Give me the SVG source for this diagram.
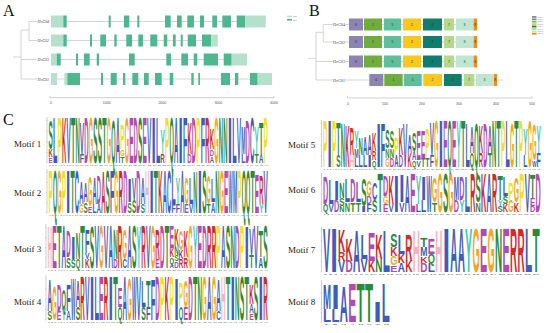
<svg xmlns="http://www.w3.org/2000/svg" width="550" height="333" viewBox="0 0 550 333">
<style>
.lg text{font-family:"Liberation Sans",Arial,sans-serif;font-weight:bold;font-size:14px}
.b{fill:#3d5cbc}.g{fill:#2a8a3a}.m{fill:#b04ab5}.r{fill:#d42a2a}.o{fill:#f6a623}.y{fill:#efe02a}.c{fill:#3cc9bb}.p{fill:#f4b3bf}
.pl{font-family:"Liberation Serif","Times New Roman",serif;font-size:16px;fill:#111}
.ml{font-family:"Liberation Serif","Times New Roman",serif;font-size:9px;fill:#222}
.tk{font-family:"Liberation Sans",Arial,sans-serif;font-size:3.5px;fill:#555;text-anchor:middle}
.gl{font-family:"Liberation Serif","Times New Roman",serif;font-size:4px;fill:#444}
.gi{font-style:italic}
.bn{font-family:"Liberation Sans",Arial,sans-serif;font-size:3.5px;fill:#333;text-anchor:middle}
.tiny{font-family:"Liberation Sans",Arial,sans-serif;font-size:1.8px;fill:#777}
.ln{stroke:#b8b8b8;stroke-width:.6;fill:none}
.ax{stroke:#888;stroke-width:.4;fill:none}
.cds{fill:#4db88f}.utr{fill:#b5e1ca}
.k1{fill:#6fae3e}.k2{fill:#f8c81c}.k3{fill:#bfe6d2}.k4{fill:#117d6c}.k5{fill:#5fbf9c}.k6{fill:#8c84b3}.k7{fill:#b4d98a}.k8{fill:#f28c1e}
</style>
<rect width="550" height="333" fill="#ffffff"/>

<!-- Panel A -->
<text class="pl" x="3" y="16">A</text>
<g id="treeA"><path class="ln" d="M13,57H21M21,30V79M21,30H29M29,21.5V40.5M29,21.5H37M29,40.5H37M21,59.5H37M21,79H37"/></g>
<g id="geneA-HvGS4">
<path class="ln" d="M51,21.5H265.7"/>
<text class="gl gi" x="37.5" y="23">HvGS4</text>
<rect class="utr" x="51" y="15.5" width="12.3" height="12"/>
<rect class="cds" x="63.3" y="15.5" width="3.4" height="12"/><rect class="cds" x="108.7" y="15.5" width="2" height="12"/><rect class="cds" x="124" y="15.5" width="5.3" height="12"/><rect class="cds" x="137.3" y="15.5" width="2" height="12"/><rect class="cds" x="165" y="15.5" width="5.7" height="12"/><rect class="cds" x="177" y="15.5" width="4.7" height="12"/><rect class="cds" x="187.3" y="15.5" width="6.7" height="12"/><rect class="cds" x="200" y="15.5" width="4" height="12"/><rect class="cds" x="212.3" y="15.5" width="4.7" height="12"/><rect class="cds" x="222.3" y="15.5" width="8.7" height="12"/><rect class="cds" x="236.7" y="15.5" width="8.6" height="12"/>
<rect class="utr" x="245.3" y="15.5" width="20.4" height="12"/>
</g>
<g id="geneA-HvGS2">
<path class="ln" d="M51,40.5H217.7"/>
<text class="gl gi" x="37.5" y="42">HvGS2</text>
<rect class="utr" x="51" y="34.5" width="12.3" height="12"/>
<rect class="cds" x="63.3" y="34.5" width="3.4" height="12"/><rect class="cds" x="90" y="34.5" width="2" height="12"/><rect class="cds" x="100.3" y="34.5" width="5.7" height="12"/><rect class="cds" x="114.3" y="34.5" width="2.4" height="12"/><rect class="cds" x="126.3" y="34.5" width="5.7" height="12"/><rect class="cds" x="138.3" y="34.5" width="4.7" height="12"/><rect class="cds" x="150.3" y="34.5" width="7" height="12"/><rect class="cds" x="163.7" y="34.5" width="3.6" height="12"/><rect class="cds" x="173" y="34.5" width="2.7" height="12"/><rect class="cds" x="180.7" y="34.5" width="2" height="12"/><rect class="cds" x="187.7" y="34.5" width="8.3" height="12"/><rect class="cds" x="202" y="34.5" width="9.3" height="12"/>
<rect class="utr" x="211.3" y="34.5" width="6.4" height="12"/>
</g>
<g id="geneA-HvGS3">
<path class="ln" d="M51,59.5H247"/>
<text class="gl gi" x="37.5" y="61">HvGS3</text>
<rect class="utr" x="51" y="53.5" width="5.7" height="12"/>
<rect class="cds" x="56.7" y="53.5" width="4" height="12"/><rect class="cds" x="76" y="53.5" width="2" height="12"/><rect class="cds" x="84" y="53.5" width="5.7" height="12"/><rect class="cds" x="96.7" y="53.5" width="2.3" height="12"/><rect class="cds" x="129" y="53.5" width="5.7" height="12"/><rect class="cds" x="166.3" y="53.5" width="4.7" height="12"/><rect class="cds" x="181.3" y="53.5" width="6.7" height="12"/><rect class="cds" x="193.7" y="53.5" width="3.6" height="12"/><rect class="cds" x="203.7" y="53.5" width="14.3" height="12"/><rect class="cds" x="223.7" y="53.5" width="8" height="12"/>
<rect class="utr" x="231.7" y="53.5" width="15.3" height="12"/>
</g>
<g id="geneA-HvGS1">
<path class="ln" d="M51,79H272"/>
<text class="gl gi" x="37.5" y="80.5">HvGS1</text>
<rect class="utr" x="51" y="73" width="6" height="12"/><rect class="utr" x="64.3" y="73" width="3" height="12"/>
<rect class="cds" x="67.3" y="73" width="12.7" height="12"/><rect class="cds" x="101" y="73" width="2" height="12"/><rect class="cds" x="110.7" y="73" width="6" height="12"/><rect class="cds" x="123" y="73" width="2.3" height="12"/><rect class="cds" x="132.3" y="73" width="6" height="12"/><rect class="cds" x="144" y="73" width="4.7" height="12"/><rect class="cds" x="155" y="73" width="6.7" height="12"/><rect class="cds" x="169.7" y="73" width="3.6" height="12"/><rect class="cds" x="191.3" y="73" width="2.4" height="12"/><rect class="cds" x="198.3" y="73" width="1.7" height="12"/><rect class="cds" x="221" y="73" width="9" height="12"/><rect class="cds" x="235" y="73" width="3.3" height="12"/><rect class="cds" x="250" y="73" width="7.7" height="12"/>
<rect class="utr" x="257.7" y="73" width="14.3" height="12"/>
</g>
<g id="axisA">
<path class="ax" d="M50,97.7H274M50,96V97.7M274,96V97.7"/>
<text class="tk" x="51" y="104">0</text><text class="tk" x="106.7" y="104">1000</text><text class="tk" x="162.3" y="104">2000</text><text class="tk" x="218.3" y="104">3000</text><text class="tk" x="274" y="104">4000</text>
</g>
<g id="legendA">
<rect class="utr" x="287" y="15.7" width="5" height="1.6"/><text class="tiny" x="293" y="17.2">UTR</text>
<rect class="cds" x="287" y="19" width="5" height="1.6"/><text class="tiny" x="293" y="20.5">CDS</text>
</g>

<!-- Panel B -->
<text class="pl" x="309" y="16">B</text>
<g id="treeB"><path class="ln" d="M308.3,58.3H316M316,32.3V80M316,32.3H323.3M323.3,24.5V42M323.3,24.5H333M323.3,42H333M316,61.5H333M316,80H333"/></g>
<g id="protB-HvGS4">
<path class="ln" d="M345,24.5H478"/>
<text class="gl" x="333" y="26">HvGS4</text>
<rect class="k6" x="349" y="18.5" width="14" height="12"/><rect class="k1" x="364" y="18.5" width="18" height="12"/><rect class="k5" x="384" y="18.5" width="17" height="12"/><rect class="k2" x="403" y="18.5" width="18" height="12"/><rect class="k4" x="423" y="18.5" width="19" height="12"/><rect class="k7" x="444" y="18.5" width="10" height="12"/><rect class="k3" x="456" y="18.5" width="17" height="12"/><rect class="k8" x="473.5" y="18.5" width="3.5" height="12"/>
<text class="bn" x="356" y="25.7">6</text><text class="bn" x="373" y="25.7">1</text><text class="bn" x="392.5" y="25.7">5</text><text class="bn" x="412" y="25.7">2</text><text class="bn" x="432.5" y="25.7">4</text><text class="bn" x="449" y="25.7">7</text><text class="bn" x="464.5" y="25.7">3</text><text class="bn" x="475.2" y="25.7">8</text>
</g>
<g id="protB-HvGS2">
<path class="ln" d="M345,42H479.5"/>
<text class="gl" x="333" y="43.5">HvGS2</text>
<rect class="k6" x="349" y="36" width="14" height="12"/><rect class="k1" x="364" y="36" width="18" height="12"/><rect class="k5" x="384" y="36" width="17" height="12"/><rect class="k2" x="403" y="36" width="18" height="12"/><rect class="k4" x="423" y="36" width="19" height="12"/><rect class="k7" x="444" y="36" width="10" height="12"/><rect class="k3" x="456" y="36" width="17" height="12"/><rect class="k8" x="473.5" y="36" width="3.5" height="12"/>
<text class="bn" x="356" y="43.2">6</text><text class="bn" x="373" y="43.2">1</text><text class="bn" x="392.5" y="43.2">5</text><text class="bn" x="412" y="43.2">2</text><text class="bn" x="432.5" y="43.2">4</text><text class="bn" x="449" y="43.2">7</text><text class="bn" x="464.5" y="43.2">3</text><text class="bn" x="475.2" y="43.2">8</text>
</g>
<g id="protB-HvGS3">
<path class="ln" d="M345,61.5H477.5"/>
<text class="gl" x="333" y="63">HvGS3</text>
<rect class="k6" x="349" y="55.5" width="14" height="12"/><rect class="k1" x="364" y="55.5" width="18" height="12"/><rect class="k5" x="384" y="55.5" width="17" height="12"/><rect class="k2" x="403" y="55.5" width="18" height="12"/><rect class="k4" x="423" y="55.5" width="19" height="12"/><rect class="k7" x="444" y="55.5" width="10" height="12"/><rect class="k3" x="456" y="55.5" width="17" height="12"/><rect class="k8" x="473.5" y="55.5" width="3.5" height="12"/>
<text class="bn" x="356" y="62.7">6</text><text class="bn" x="373" y="62.7">1</text><text class="bn" x="392.5" y="62.7">5</text><text class="bn" x="412" y="62.7">2</text><text class="bn" x="432.5" y="62.7">4</text><text class="bn" x="449" y="62.7">7</text><text class="bn" x="464.5" y="62.7">3</text><text class="bn" x="475.2" y="62.7">8</text>
</g>
<g id="protB-HvGS1">
<path class="ln" d="M345,80H503"/>
<text class="gl" x="333" y="81.5">HvGS1</text>
<rect class="k6" x="369.3" y="74" width="14" height="12"/><rect class="k1" x="384.3" y="74" width="18.4" height="12"/><rect class="k5" x="404" y="74" width="17.7" height="12"/><rect class="k2" x="423.3" y="74" width="18.7" height="12"/><rect class="k4" x="444" y="74" width="17.7" height="12"/><rect class="k7" x="464" y="74" width="10.3" height="12"/><rect class="k3" x="476" y="74" width="17.3" height="12"/><rect class="k8" x="493.7" y="74" width="3.3" height="12"/>
<text class="bn" x="376.3" y="81.2">6</text><text class="bn" x="393.5" y="81.2">1</text><text class="bn" x="412.8" y="81.2">5</text><text class="bn" x="432.6" y="81.2">2</text><text class="bn" x="452.8" y="81.2">4</text><text class="bn" x="469.1" y="81.2">7</text><text class="bn" x="484.6" y="81.2">3</text><text class="bn" x="495.3" y="81.2">8</text>
</g>
<g id="axisB">
<path class="ax" d="M347.5,98H532M347.5,96.3V98M532,96.3V98"/>
<text class="tk" x="348" y="104.5">0</text><text class="tk" x="385" y="104.5">100</text><text class="tk" x="422" y="104.5">200</text><text class="tk" x="459" y="104.5">300</text><text class="tk" x="496" y="104.5">400</text><text class="tk" x="532" y="104.5">500</text>
</g>
<g id="legendB">
<rect class="k6" x="532" y="16" width="4.5" height="1.8"/><text class="tiny" x="537.5" y="17.5">Motif 6</text>
<rect class="k1" x="532" y="18.4" width="4.5" height="1.8"/><text class="tiny" x="537.5" y="19.9">Motif 1</text>
<rect class="k5" x="532" y="20.8" width="4.5" height="1.8"/><text class="tiny" x="537.5" y="22.3">Motif 5</text>
<rect class="k2" x="532" y="23.2" width="4.5" height="1.8"/><text class="tiny" x="537.5" y="24.7">Motif 2</text>
<rect class="k4" x="532" y="25.6" width="4.5" height="1.8"/><text class="tiny" x="537.5" y="27.1">Motif 4</text>
<rect class="k7" x="532" y="28" width="4.5" height="1.8"/><text class="tiny" x="537.5" y="29.5">Motif 7</text>
<rect class="k3" x="532" y="30.4" width="4.5" height="1.8"/><text class="tiny" x="537.5" y="31.9">Motif 3</text>
<rect class="k8" x="532" y="32.8" width="4.5" height="1.8"/><text class="tiny" x="537.5" y="34.3">Motif 8</text>
</g>

<!-- Panel C -->
<text class="pl" x="3" y="125">C</text>
<g id="motif-labels">
<text class="ml" x="14" y="146.5">Motif 1</text>
<text class="ml" x="14" y="195.5">Motif 2</text>
<text class="ml" x="14" y="251.5">Motif 3</text>
<text class="ml" x="14" y="305">Motif 4</text>
<text class="ml" x="288" y="148">Motif 5</text>
<text class="ml" x="288" y="193">Motif 6</text>
<text class="ml" x="288" y="253">Motif 7</text>
<text class="ml" x="288" y="304.5">Motif 8</text>
</g>
<g id="logo-axes">
<path class="ax" d="M47,117V163M46.2,163H47M46.2,152.4H47M46.2,141.7H47M46.2,131.1H47M46.2,120.4H47
M47,169V213M46.2,213H47M46.2,202.8H47M46.2,192.6H47M46.2,182.5H47M46.2,172.3H47
M46,224V268M45.2,268H46M45.2,257.8H46M45.2,247.6H46M45.2,237.5H46M45.2,227.3H46
M46,275V320M45.2,320H46M45.2,309.6H46M45.2,299.2H46M45.2,288.8H46M45.2,278.3H46
M321.5,120V167M320.7,167H321.5M320.7,156.1H321.5M320.7,145.2H321.5M320.7,134.4H321.5M320.7,123.5H321.5
M321.5,173V212M320.7,212H321.5M320.7,203H321.5M320.7,194H321.5M320.7,184.9H321.5M320.7,175.9H321.5
M321.5,227V272M320.7,272H321.5M320.7,261.6H321.5M320.7,251.2H321.5M320.7,240.8H321.5M320.7,230.3H321.5
M321.5,280V322M320.7,322H321.5M320.7,312.3H321.5M320.7,302.6H321.5M320.7,292.9H321.5M320.7,283.1H321.5"/>
<text class="tiny" x="49" y="166" textLength="219" lengthAdjust="spacingAndGlyphs">1 2 3 4 5 6 7 8 9 10 11 12 13 14 15 16 17 18 19 20 21 22 23 24 25 26 27 28 29 30 31 32 33 34 35 36 37 38 39 40 41 42 43 44 45 46 47 48 49</text>
<text class="tiny" x="49" y="216" textLength="219" lengthAdjust="spacingAndGlyphs">1 2 3 4 5 6 7 8 9 10 11 12 13 14 15 16 17 18 19 20 21 22 23 24 25 26 27 28 29 30 31 32 33 34 35 36 37 38 39 40 41 42 43 44 45 46 47 48 49 50</text>
<text class="tiny" x="48" y="271" textLength="220" lengthAdjust="spacingAndGlyphs">1 2 3 4 5 6 7 8 9 10 11 12 13 14 15 16 17 18 19 20 21 22 23 24 25 26 27 28 29 30 31 32 33 34 35 36 37 38 39 40 41 42 43 44 45 46 47</text>
<text class="tiny" x="48" y="323" textLength="220" lengthAdjust="spacingAndGlyphs">1 2 3 4 5 6 7 8 9 10 11 12 13 14 15 16 17 18 19 20 21 22 23 24 25 26 27 28 29 30 31 32 33 34 35 36 37 38 39 40 41 42 43 44 45 46 47</text>
<text class="tiny" x="323.5" y="170" textLength="217" lengthAdjust="spacingAndGlyphs">1 2 3 4 5 6 7 8 9 10 11 12 13 14 15 16 17 18 19 20 21 22 23 24 25 26 27 28 29 30 31 32 33 34 35 36 37 38 39 40 41 42 43 44 45 46 47 48 49</text>
<text class="tiny" x="323.5" y="215" textLength="217" lengthAdjust="spacingAndGlyphs">1 2 3 4 5 6 7 8 9 10 11 12 13 14 15 16 17 18 19 20 21 22 23 24 25 26 27 28 29 30 31 32 33 34 35 36 37 38 39 40</text>
<text class="tiny" x="323.5" y="275" textLength="216" lengthAdjust="spacingAndGlyphs">1 2 3 4 5 6 7 8 9 10 11 12 13 14 15 16 17 18 19 20 21 22 23 24 25 26 27 28 29</text>
<text class="tiny" x="323.5" y="325" textLength="66" lengthAdjust="spacingAndGlyphs">1 2 3 4 5 6 7 8</text>
</g>

<g id="logo-motif1" class="lg" transform="translate(48.5,163) scale(.448,4.6)">
<text x="0" class="m" transform="scale(1,.12)" textLength="9.6" lengthAdjust="spacingAndGlyphs">E</text>
<text x="0" class="r" transform="translate(0,-1.2) scale(1,.18)" textLength="9.6" lengthAdjust="spacingAndGlyphs">K</text>
<text x="0" class="g" transform="translate(0,-3) scale(1,.62)" textLength="9.6" lengthAdjust="spacingAndGlyphs">S</text>
<text x="10" class="b" textLength="9.6" lengthAdjust="spacingAndGlyphs">L</text>
<text x="20" class="y" textLength="9.6" lengthAdjust="spacingAndGlyphs">P</text>
<text x="30" class="r" textLength="9.6" lengthAdjust="spacingAndGlyphs">K</text>
<text x="40" class="b" textLength="9.6" lengthAdjust="spacingAndGlyphs">V</text>
<text x="50" class="g" textLength="9.6" lengthAdjust="spacingAndGlyphs">T</text>
<text x="60" class="g" textLength="9.6" lengthAdjust="spacingAndGlyphs">N</text>
<text x="70" class="b" transform="scale(1,.2)" textLength="9.6" lengthAdjust="spacingAndGlyphs">F</text>
<text x="70" class="b" transform="translate(0,-2) scale(1,.7)" textLength="9.6" lengthAdjust="spacingAndGlyphs">V</text>
<text x="80" class="m" textLength="9.6" lengthAdjust="spacingAndGlyphs">D</text>
<text x="90" class="o" textLength="9.6" lengthAdjust="spacingAndGlyphs">G</text>
<text x="100" class="g" textLength="9.6" lengthAdjust="spacingAndGlyphs">S</text>
<text x="110" class="g" textLength="9.6" lengthAdjust="spacingAndGlyphs">S</text>
<text x="120" class="g" textLength="9.6" lengthAdjust="spacingAndGlyphs">T</text>
<text x="130" class="o" textLength="9.6" lengthAdjust="spacingAndGlyphs">G</text>
<text x="140" class="g" transform="scale(1,.95)" textLength="9.6" lengthAdjust="spacingAndGlyphs">Q</text>
<text x="150" class="b" textLength="9.6" lengthAdjust="spacingAndGlyphs">A</text>
<text x="160" class="g" transform="scale(1,.15)" textLength="9.6" lengthAdjust="spacingAndGlyphs">T</text>
<text x="160" class="o" transform="translate(0,-1.5) scale(1,.15)" textLength="9.6" lengthAdjust="spacingAndGlyphs">G</text>
<text x="160" class="y" transform="translate(0,-3) scale(1,.55)" textLength="9.6" lengthAdjust="spacingAndGlyphs">P</text>
<text x="170" class="o" textLength="9.6" lengthAdjust="spacingAndGlyphs">G</text>
<text x="180" class="m" textLength="9.6" lengthAdjust="spacingAndGlyphs">E</text>
<text x="190" class="m" textLength="9.6" lengthAdjust="spacingAndGlyphs">D</text>
<text x="200" class="g" textLength="9.6" lengthAdjust="spacingAndGlyphs">S</text>
<text x="210" class="m" textLength="9.6" lengthAdjust="spacingAndGlyphs">E</text>
<text x="220" class="b" textLength="9.6" lengthAdjust="spacingAndGlyphs">V</text>
<text x="230" class="b" textLength="9.6" lengthAdjust="spacingAndGlyphs">I</text>
<text x="240" class="b" textLength="9.6" lengthAdjust="spacingAndGlyphs">L</text>
<text x="250" class="r" transform="scale(1,.2)" textLength="9.6" lengthAdjust="spacingAndGlyphs">R</text>
<text x="250" class="c" transform="translate(0,-2) scale(1,.55)" textLength="9.6" lengthAdjust="spacingAndGlyphs">Y</text>
<text x="260" class="y" textLength="9.6" lengthAdjust="spacingAndGlyphs">P</text>
<text x="270" class="g" textLength="9.6" lengthAdjust="spacingAndGlyphs">Q</text>
<text x="280" class="b" textLength="9.6" lengthAdjust="spacingAndGlyphs">A</text>
<text x="290" class="b" textLength="9.6" lengthAdjust="spacingAndGlyphs">I</text>
<text x="300" class="b" textLength="9.6" lengthAdjust="spacingAndGlyphs">F</text>
<text x="310" class="m" transform="scale(1,.2)" textLength="9.6" lengthAdjust="spacingAndGlyphs">D</text>
<text x="310" class="r" transform="translate(0,-2) scale(1,.7)" textLength="9.6" lengthAdjust="spacingAndGlyphs">K</text>
<text x="320" class="m" textLength="9.6" lengthAdjust="spacingAndGlyphs">D</text>
<text x="330" class="y" textLength="9.6" lengthAdjust="spacingAndGlyphs">P</text>
<text x="340" class="b" textLength="9.6" lengthAdjust="spacingAndGlyphs">F</text>
<text x="350" class="r" textLength="9.6" lengthAdjust="spacingAndGlyphs">R</text>
<text x="360" class="b" transform="scale(1,.15)" textLength="9.6" lengthAdjust="spacingAndGlyphs">A</text>
<text x="360" class="m" transform="translate(0,-1.5) scale(1,.15)" textLength="9.6" lengthAdjust="spacingAndGlyphs">D</text>
<text x="360" class="r" transform="translate(0,-3) scale(1,.45)" textLength="9.6" lengthAdjust="spacingAndGlyphs">K</text>
<text x="370" class="o" textLength="9.6" lengthAdjust="spacingAndGlyphs">G</text>
<text x="380" class="g" textLength="9.6" lengthAdjust="spacingAndGlyphs">N</text>
<text x="390" class="g" textLength="9.6" lengthAdjust="spacingAndGlyphs">N</text>
<text x="400" class="b" textLength="9.6" lengthAdjust="spacingAndGlyphs">I</text>
<text x="410" class="b" textLength="9.6" lengthAdjust="spacingAndGlyphs">L</text>
<text x="420" class="b" textLength="9.6" lengthAdjust="spacingAndGlyphs">V</text>
<text x="430" class="b" transform="scale(1,.2)" textLength="9.6" lengthAdjust="spacingAndGlyphs">L</text>
<text x="430" class="b" transform="translate(0,-2) scale(1,.6)" textLength="9.6" lengthAdjust="spacingAndGlyphs">M</text>
<text x="440" class="m" transform="scale(1,.95)" textLength="9.6" lengthAdjust="spacingAndGlyphs">D</text>
<text x="450" class="b" textLength="9.6" lengthAdjust="spacingAndGlyphs">C</text>
<text x="460" class="g" transform="scale(1,.2)" textLength="9.6" lengthAdjust="spacingAndGlyphs">T</text>
<text x="460" class="c" transform="translate(0,-2) scale(1,.6)" textLength="9.6" lengthAdjust="spacingAndGlyphs">Y</text>
<text x="470" class="b" transform="scale(1,.2)" textLength="9.6" lengthAdjust="spacingAndGlyphs">A</text>
<text x="470" class="g" transform="translate(0,-2) scale(1,.7)" textLength="9.6" lengthAdjust="spacingAndGlyphs">T</text>
<text x="480" class="y" textLength="9.6" lengthAdjust="spacingAndGlyphs">P</text>
</g>

<g id="logo-motif2" class="lg" transform="translate(48.5,213) scale(.439,4.4)">
<text x="0" class="y" textLength="9.6" lengthAdjust="spacingAndGlyphs">P</text>
<text x="10" class="g" textLength="9.6" lengthAdjust="spacingAndGlyphs">Q</text>
<text x="20" class="o" textLength="9.6" lengthAdjust="spacingAndGlyphs">G</text>
<text x="30" class="y" textLength="9.6" lengthAdjust="spacingAndGlyphs">P</text>
<text x="40" class="b" textLength="9.6" lengthAdjust="spacingAndGlyphs">I</text>
<text x="50" class="g" textLength="9.6" lengthAdjust="spacingAndGlyphs">T</text>
<text x="60" class="b" textLength="9.6" lengthAdjust="spacingAndGlyphs">C</text>
<text x="70" class="o" transform="scale(1,.2)" textLength="9.6" lengthAdjust="spacingAndGlyphs">G</text>
<text x="70" class="b" transform="translate(0,-2) scale(1,.5)" textLength="9.6" lengthAdjust="spacingAndGlyphs">A</text>
<text x="80" class="g" transform="scale(1,.25)" textLength="9.6" lengthAdjust="spacingAndGlyphs">S</text>
<text x="80" class="b" transform="translate(0,-2.5) scale(1,.45)" textLength="9.6" lengthAdjust="spacingAndGlyphs">A</text>
<text x="90" class="m" transform="scale(1,.15)" textLength="9.6" lengthAdjust="spacingAndGlyphs">E</text>
<text x="90" class="o" transform="translate(0,-1.5) scale(1,.7)" textLength="9.6" lengthAdjust="spacingAndGlyphs">G</text>
<text x="100" class="b" transform="scale(1,.2)" textLength="9.6" lengthAdjust="spacingAndGlyphs">L</text>
<text x="100" class="b" transform="translate(0,-2) scale(1,.6)" textLength="9.6" lengthAdjust="spacingAndGlyphs">A</text>
<text x="110" class="b" transform="scale(1,.2)" textLength="9.6" lengthAdjust="spacingAndGlyphs">A</text>
<text x="110" class="m" transform="translate(0,-2) scale(1,.65)" textLength="9.6" lengthAdjust="spacingAndGlyphs">D</text>
<text x="120" class="r" transform="scale(1,.95)" textLength="9.6" lengthAdjust="spacingAndGlyphs">A</text>
<text x="130" class="g" textLength="9.6" lengthAdjust="spacingAndGlyphs">S</text>
<text x="140" class="b" textLength="9.6" lengthAdjust="spacingAndGlyphs">F</text>
<text x="150" class="o" textLength="9.6" lengthAdjust="spacingAndGlyphs">G</text>
<text x="160" class="r" textLength="9.6" lengthAdjust="spacingAndGlyphs">R</text>
<text x="170" class="m" textLength="9.6" lengthAdjust="spacingAndGlyphs">D</text>
<text x="180" class="g" transform="scale(1,.25)" textLength="9.6" lengthAdjust="spacingAndGlyphs">S</text>
<text x="180" class="b" transform="translate(0,-2.5) scale(1,.55)" textLength="9.6" lengthAdjust="spacingAndGlyphs">I</text>
<text x="190" class="g" transform="scale(1,.3)" textLength="9.6" lengthAdjust="spacingAndGlyphs">S</text>
<text x="190" class="b" transform="translate(0,-3) scale(1,.5)" textLength="9.6" lengthAdjust="spacingAndGlyphs">V</text>
<text x="200" class="m" textLength="9.6" lengthAdjust="spacingAndGlyphs">D</text>
<text x="210" class="g" transform="scale(1,.2)" textLength="9.6" lengthAdjust="spacingAndGlyphs">S</text>
<text x="210" class="b" transform="translate(0,-2) scale(1,.6)" textLength="9.6" lengthAdjust="spacingAndGlyphs">A</text>
<text x="220" class="p" textLength="9.6" lengthAdjust="spacingAndGlyphs">H</text>
<text x="230" class="b" textLength="9.6" lengthAdjust="spacingAndGlyphs">I</text>
<text x="240" class="g" textLength="9.6" lengthAdjust="spacingAndGlyphs">T</text>
<text x="250" class="r" textLength="9.6" lengthAdjust="spacingAndGlyphs">K</text>
<text x="260" class="b" textLength="9.6" lengthAdjust="spacingAndGlyphs">A</text>
<text x="270" class="b" textLength="9.6" lengthAdjust="spacingAndGlyphs">C</text>
<text x="280" class="b" transform="scale(1,.2)" textLength="9.6" lengthAdjust="spacingAndGlyphs">F</text>
<text x="280" class="b" transform="translate(0,-2) scale(1,.7)" textLength="9.6" lengthAdjust="spacingAndGlyphs">L</text>
<text x="290" class="b" transform="scale(1,.2)" textLength="9.6" lengthAdjust="spacingAndGlyphs">F</text>
<text x="290" class="c" transform="translate(0,-2) scale(1,.6)" textLength="9.6" lengthAdjust="spacingAndGlyphs">Y</text>
<text x="300" class="b" textLength="9.6" lengthAdjust="spacingAndGlyphs">A</text>
<text x="310" class="m" transform="scale(1,.2)" textLength="9.6" lengthAdjust="spacingAndGlyphs">E</text>
<text x="310" class="o" transform="translate(0,-2) scale(1,.6)" textLength="9.6" lengthAdjust="spacingAndGlyphs">G</text>
<text x="320" class="b" transform="scale(1,.2)" textLength="9.6" lengthAdjust="spacingAndGlyphs">V</text>
<text x="320" class="b" transform="translate(0,-2) scale(1,.6)" textLength="9.6" lengthAdjust="spacingAndGlyphs">L</text>
<text x="330" class="g" transform="scale(1,.95)" textLength="9.6" lengthAdjust="spacingAndGlyphs">N</text>
<text x="340" class="b" textLength="9.6" lengthAdjust="spacingAndGlyphs">I</text>
<text x="350" class="g" textLength="9.6" lengthAdjust="spacingAndGlyphs">S</text>
<text x="360" class="g" transform="scale(1,.2)" textLength="9.6" lengthAdjust="spacingAndGlyphs">T</text>
<text x="360" class="o" transform="translate(0,-2) scale(1,.65)" textLength="9.6" lengthAdjust="spacingAndGlyphs">G</text>
<text x="370" class="b" transform="scale(1,.25)" textLength="9.6" lengthAdjust="spacingAndGlyphs">A</text>
<text x="370" class="b" transform="translate(0,-2.5) scale(1,.55)" textLength="9.6" lengthAdjust="spacingAndGlyphs">L</text>
<text x="380" class="g" textLength="9.6" lengthAdjust="spacingAndGlyphs">N</text>
<text x="390" class="o" textLength="9.6" lengthAdjust="spacingAndGlyphs">G</text>
<text x="400" class="m" textLength="9.6" lengthAdjust="spacingAndGlyphs">E</text>
<text x="410" class="b" textLength="9.6" lengthAdjust="spacingAndGlyphs">W</text>
<text x="420" class="b" textLength="9.6" lengthAdjust="spacingAndGlyphs">M</text>
<text x="430" class="y" textLength="9.6" lengthAdjust="spacingAndGlyphs">P</text>
<text x="440" class="g" textLength="9.6" lengthAdjust="spacingAndGlyphs">Q</text>
<text x="450" class="g" textLength="9.6" lengthAdjust="spacingAndGlyphs">Q</text>
<text x="460" class="g" textLength="9.6" lengthAdjust="spacingAndGlyphs">T</text>
<text x="470" class="m" transform="scale(1,.9)" textLength="9.6" lengthAdjust="spacingAndGlyphs">E</text>
<text x="480" class="c" transform="scale(1,.2)" textLength="9.6" lengthAdjust="spacingAndGlyphs">Y</text>
<text x="480" class="r" transform="translate(0,-2) scale(1,.65)" textLength="9.6" lengthAdjust="spacingAndGlyphs">R</text>
<text x="490" class="b" textLength="9.6" lengthAdjust="spacingAndGlyphs">V</text>
</g>

<g id="logo-motif3" class="lg" transform="translate(47.5,268) scale(.469,4.4)">
<text x="0" class="p" transform="scale(1,.95)" textLength="9.6" lengthAdjust="spacingAndGlyphs">H</text>
<text x="10" class="m" textLength="9.6" lengthAdjust="spacingAndGlyphs">E</text>
<text x="20" class="g" textLength="9.6" lengthAdjust="spacingAndGlyphs">T</text>
<text x="30" class="b" textLength="9.6" lengthAdjust="spacingAndGlyphs">A</text>
<text x="40" class="g" transform="scale(1,.25)" textLength="9.6" lengthAdjust="spacingAndGlyphs">S</text>
<text x="40" class="m" transform="translate(0,-2.5) scale(1,.6)" textLength="9.6" lengthAdjust="spacingAndGlyphs">D</text>
<text x="50" class="g" transform="scale(1,.2)" textLength="9.6" lengthAdjust="spacingAndGlyphs">S</text>
<text x="50" class="b" transform="translate(0,-2) scale(1,.5)" textLength="9.6" lengthAdjust="spacingAndGlyphs">I</text>
<text x="60" class="g" transform="scale(1,.2)" textLength="9.6" lengthAdjust="spacingAndGlyphs">Q</text>
<text x="60" class="g" transform="translate(0,-2) scale(1,.6)" textLength="9.6" lengthAdjust="spacingAndGlyphs">N</text>
<text x="70" class="g" textLength="9.6" lengthAdjust="spacingAndGlyphs">T</text>
<text x="80" class="r" transform="scale(1,.2)" textLength="9.6" lengthAdjust="spacingAndGlyphs">K</text>
<text x="80" class="b" transform="translate(0,-2) scale(1,.15)" textLength="9.6" lengthAdjust="spacingAndGlyphs">V</text>
<text x="80" class="b" transform="translate(0,-3.5) scale(1,.55)" textLength="9.6" lengthAdjust="spacingAndGlyphs">F</text>
<text x="90" class="g" transform="scale(1,.95)" textLength="9.6" lengthAdjust="spacingAndGlyphs">S</text>
<text x="100" class="b" textLength="9.6" lengthAdjust="spacingAndGlyphs">V</text>
<text x="110" class="o" textLength="9.6" lengthAdjust="spacingAndGlyphs">G</text>
<text x="120" class="b" textLength="9.6" lengthAdjust="spacingAndGlyphs">V</text>
<text x="130" class="b" textLength="9.6" lengthAdjust="spacingAndGlyphs">A</text>
<text x="140" class="m" transform="scale(1,.2)" textLength="9.6" lengthAdjust="spacingAndGlyphs">D</text>
<text x="140" class="g" transform="translate(0,-2) scale(1,.7)" textLength="9.6" lengthAdjust="spacingAndGlyphs">N</text>
<text x="150" class="r" textLength="9.6" lengthAdjust="spacingAndGlyphs">R</text>
<text x="160" class="b" transform="scale(1,.2)" textLength="9.6" lengthAdjust="spacingAndGlyphs">C</text>
<text x="160" class="o" transform="translate(0,-2) scale(1,.7)" textLength="9.6" lengthAdjust="spacingAndGlyphs">G</text>
<text x="170" class="b" textLength="9.6" lengthAdjust="spacingAndGlyphs">A</text>
<text x="180" class="g" textLength="9.6" lengthAdjust="spacingAndGlyphs">S</text>
<text x="190" class="c" transform="scale(1,.95)" textLength="9.6" lengthAdjust="spacingAndGlyphs">Y</text>
<text x="200" class="r" textLength="9.6" lengthAdjust="spacingAndGlyphs">R</text>
<text x="210" class="b" textLength="9.6" lengthAdjust="spacingAndGlyphs">V</text>
<text x="220" class="o" textLength="9.6" lengthAdjust="spacingAndGlyphs">G</text>
<text x="230" class="m" transform="scale(1,.2)" textLength="9.6" lengthAdjust="spacingAndGlyphs">E</text>
<text x="230" class="r" transform="translate(0,-2) scale(1,.7)" textLength="9.6" lengthAdjust="spacingAndGlyphs">R</text>
<text x="240" class="m" textLength="9.6" lengthAdjust="spacingAndGlyphs">D</text>
<text x="250" class="g" textLength="9.6" lengthAdjust="spacingAndGlyphs">T</text>
<text x="260" class="b" transform="scale(1,.1)" textLength="9.6" lengthAdjust="spacingAndGlyphs">A</text>
<text x="260" class="g" transform="translate(0,-1) scale(1,.15)" textLength="9.6" lengthAdjust="spacingAndGlyphs">Q</text>
<text x="260" class="r" transform="translate(0,-2.5) scale(1,.2)" textLength="9.6" lengthAdjust="spacingAndGlyphs">K</text>
<text x="260" class="m" transform="translate(0,-4.5) scale(1,.5)" textLength="9.6" lengthAdjust="spacingAndGlyphs">E</text>
<text x="270" class="m" transform="scale(1,.15)" textLength="9.6" lengthAdjust="spacingAndGlyphs">D</text>
<text x="270" class="g" transform="translate(0,-1.5) scale(1,.15)" textLength="9.6" lengthAdjust="spacingAndGlyphs">S</text>
<text x="270" class="g" transform="translate(0,-3) scale(1,.2)" textLength="9.6" lengthAdjust="spacingAndGlyphs">N</text>
<text x="270" class="r" transform="translate(0,-5) scale(1,.4)" textLength="9.6" lengthAdjust="spacingAndGlyphs">K</text>
<text x="280" class="r" transform="scale(1,.2)" textLength="9.6" lengthAdjust="spacingAndGlyphs">R</text>
<text x="280" class="r" transform="translate(0,-2) scale(1,.2)" textLength="9.6" lengthAdjust="spacingAndGlyphs">K</text>
<text x="280" class="o" transform="translate(0,-4) scale(1,.45)" textLength="9.6" lengthAdjust="spacingAndGlyphs">G</text>
<text x="290" class="r" transform="scale(1,.25)" textLength="9.6" lengthAdjust="spacingAndGlyphs">R</text>
<text x="290" class="r" transform="translate(0,-2.5) scale(1,.6)" textLength="9.6" lengthAdjust="spacingAndGlyphs">K</text>
<text x="300" class="o" textLength="9.6" lengthAdjust="spacingAndGlyphs">G</text>
<text x="310" class="c" textLength="9.6" lengthAdjust="spacingAndGlyphs">Y</text>
<text x="320" class="m" textLength="9.6" lengthAdjust="spacingAndGlyphs">E</text>
<text x="330" class="m" textLength="9.6" lengthAdjust="spacingAndGlyphs">D</text>
<text x="340" class="r" textLength="9.6" lengthAdjust="spacingAndGlyphs">R</text>
<text x="350" class="r" textLength="9.6" lengthAdjust="spacingAndGlyphs">R</text>
<text x="360" class="y" textLength="9.6" lengthAdjust="spacingAndGlyphs">P</text>
<text x="370" class="b" textLength="9.6" lengthAdjust="spacingAndGlyphs">A</text>
<text x="380" class="g" textLength="9.6" lengthAdjust="spacingAndGlyphs">S</text>
<text x="390" class="g" textLength="9.6" lengthAdjust="spacingAndGlyphs">N</text>
<text x="400" class="m" textLength="9.6" lengthAdjust="spacingAndGlyphs">D</text>
<text x="410" class="y" textLength="9.6" lengthAdjust="spacingAndGlyphs">P</text>
<text x="420" class="b" transform="scale(1,.95)" textLength="9.6" lengthAdjust="spacingAndGlyphs">I</text>
<text x="430" class="g" transform="scale(1,.3)" textLength="9.6" lengthAdjust="spacingAndGlyphs">T</text>
<text x="430" class="b" transform="translate(0,-3) scale(1,.6)" textLength="9.6" lengthAdjust="spacingAndGlyphs">V</text>
<text x="440" class="b" textLength="9.6" lengthAdjust="spacingAndGlyphs">V</text>
<text x="450" class="b" transform="scale(1,.25)" textLength="9.6" lengthAdjust="spacingAndGlyphs">A</text>
<text x="450" class="g" transform="translate(0,-2.5) scale(1,.6)" textLength="9.6" lengthAdjust="spacingAndGlyphs">T</text>
<text x="460" class="g" textLength="9.6" lengthAdjust="spacingAndGlyphs">S</text>
</g>

<g id="logo-motif4" class="lg" transform="translate(47.5,320) scale(.469,4.5)">
<text x="0" class="g" transform="scale(1,.2)" textLength="9.6" lengthAdjust="spacingAndGlyphs">S</text>
<text x="0" class="b" transform="translate(0,-2) scale(1,.7)" textLength="9.6" lengthAdjust="spacingAndGlyphs">A</text>
<text x="10" class="o" transform="scale(1,.75)" textLength="9.6" lengthAdjust="spacingAndGlyphs">G</text>
<text x="20" class="m" transform="scale(1,.2)" textLength="9.6" lengthAdjust="spacingAndGlyphs">E</text>
<text x="20" class="m" transform="translate(0,-2) scale(1,.6)" textLength="9.6" lengthAdjust="spacingAndGlyphs">D</text>
<text x="30" class="c" transform="scale(1,.25)" textLength="9.6" lengthAdjust="spacingAndGlyphs">Y</text>
<text x="30" class="g" transform="translate(0,-2.5) scale(1,.45)" textLength="9.6" lengthAdjust="spacingAndGlyphs">Q</text>
<text x="40" class="b" transform="scale(1,.2)" textLength="9.6" lengthAdjust="spacingAndGlyphs">A</text>
<text x="40" class="b" transform="translate(0,-2) scale(1,.6)" textLength="9.6" lengthAdjust="spacingAndGlyphs">F</text>
<text x="50" class="b" transform="scale(1,.95)" textLength="9.6" lengthAdjust="spacingAndGlyphs">W</text>
<text x="60" class="g" transform="scale(1,.3)" textLength="9.6" lengthAdjust="spacingAndGlyphs">S</text>
<text x="60" class="b" transform="translate(0,-3) scale(1,.6)" textLength="9.6" lengthAdjust="spacingAndGlyphs">A</text>
<text x="70" class="r" textLength="9.6" lengthAdjust="spacingAndGlyphs">R</text>
<text x="80" class="b" textLength="9.6" lengthAdjust="spacingAndGlyphs">V</text>
<text x="90" class="b" textLength="9.6" lengthAdjust="spacingAndGlyphs">I</text>
<text x="100" class="b" textLength="9.6" lengthAdjust="spacingAndGlyphs">L</text>
<text x="110" class="m" textLength="9.6" lengthAdjust="spacingAndGlyphs">E</text>
<text x="120" class="r" textLength="9.6" lengthAdjust="spacingAndGlyphs">R</text>
<text x="130" class="b" textLength="9.6" lengthAdjust="spacingAndGlyphs">I</text>
<text x="140" class="g" textLength="9.6" lengthAdjust="spacingAndGlyphs">T</text>
<text x="150" class="g" transform="scale(1,.3)" textLength="9.6" lengthAdjust="spacingAndGlyphs">Q</text>
<text x="150" class="m" transform="translate(0,-3) scale(1,.45)" textLength="9.6" lengthAdjust="spacingAndGlyphs">E</text>
<text x="160" class="b" textLength="9.6" lengthAdjust="spacingAndGlyphs">A</text>
<text x="170" class="o" transform="scale(1,.95)" textLength="9.6" lengthAdjust="spacingAndGlyphs">G</text>
<text x="180" class="b" textLength="9.6" lengthAdjust="spacingAndGlyphs">W</text>
<text x="190" class="b" textLength="9.6" lengthAdjust="spacingAndGlyphs">V</text>
<text x="200" class="g" transform="scale(1,.3)" textLength="9.6" lengthAdjust="spacingAndGlyphs">S</text>
<text x="200" class="b" transform="translate(0,-3) scale(1,.6)" textLength="9.6" lengthAdjust="spacingAndGlyphs">L</text>
<text x="210" class="b" transform="scale(1,.3)" textLength="9.6" lengthAdjust="spacingAndGlyphs">F</text>
<text x="210" class="g" transform="translate(0,-3) scale(1,.6)" textLength="9.6" lengthAdjust="spacingAndGlyphs">T</text>
<text x="220" class="b" transform="scale(1,.9)" textLength="9.6" lengthAdjust="spacingAndGlyphs">F</text>
<text x="230" class="m" textLength="9.6" lengthAdjust="spacingAndGlyphs">D</text>
<text x="240" class="y" textLength="9.6" lengthAdjust="spacingAndGlyphs">P</text>
<text x="250" class="r" textLength="9.6" lengthAdjust="spacingAndGlyphs">K</text>
<text x="260" class="y" textLength="9.6" lengthAdjust="spacingAndGlyphs">P</text>
<text x="270" class="b" transform="scale(1,.95)" textLength="9.6" lengthAdjust="spacingAndGlyphs">I</text>
<text x="280" class="g" transform="scale(1,.3)" textLength="9.6" lengthAdjust="spacingAndGlyphs">Q</text>
<text x="280" class="y" transform="translate(0,-3) scale(1,.55)" textLength="9.6" lengthAdjust="spacingAndGlyphs">P</text>
<text x="290" class="m" transform="scale(1,.3)" textLength="9.6" lengthAdjust="spacingAndGlyphs">E</text>
<text x="290" class="o" transform="translate(0,-3) scale(1,.6)" textLength="9.6" lengthAdjust="spacingAndGlyphs">G</text>
<text x="300" class="m" textLength="9.6" lengthAdjust="spacingAndGlyphs">D</text>
<text x="310" class="g" textLength="9.6" lengthAdjust="spacingAndGlyphs">T</text>
<text x="320" class="g" textLength="9.6" lengthAdjust="spacingAndGlyphs">N</text>
<text x="330" class="o" textLength="9.6" lengthAdjust="spacingAndGlyphs">G</text>
<text x="340" class="b" textLength="9.6" lengthAdjust="spacingAndGlyphs">A</text>
<text x="350" class="o" textLength="9.6" lengthAdjust="spacingAndGlyphs">G</text>
<text x="360" class="b" transform="scale(1,.2)" textLength="9.6" lengthAdjust="spacingAndGlyphs">C</text>
<text x="360" class="b" transform="translate(0,-2) scale(1,.7)" textLength="9.6" lengthAdjust="spacingAndGlyphs">A</text>
<text x="370" class="p" textLength="9.6" lengthAdjust="spacingAndGlyphs">H</text>
<text x="380" class="g" textLength="9.6" lengthAdjust="spacingAndGlyphs">T</text>
<text x="390" class="b" textLength="9.6" lengthAdjust="spacingAndGlyphs">I</text>
<text x="400" class="g" textLength="9.6" lengthAdjust="spacingAndGlyphs">N</text>
<text x="410" class="g" textLength="9.6" lengthAdjust="spacingAndGlyphs">S</text>
<text x="420" class="g" textLength="9.6" lengthAdjust="spacingAndGlyphs">T</text>
<text x="430" class="m" transform="scale(1,.15)" textLength="9.6" lengthAdjust="spacingAndGlyphs">E</text>
<text x="430" class="b" transform="translate(0,-1.5) scale(1,.2)" textLength="9.6" lengthAdjust="spacingAndGlyphs">A</text>
<text x="430" class="r" transform="translate(0,-3.5) scale(1,.45)" textLength="9.6" lengthAdjust="spacingAndGlyphs">K</text>
<text x="440" class="g" textLength="9.6" lengthAdjust="spacingAndGlyphs">S</text>
<text x="450" class="b" textLength="9.6" lengthAdjust="spacingAndGlyphs">I</text>
<text x="460" class="r" textLength="9.6" lengthAdjust="spacingAndGlyphs">R</text>
</g>

<g id="logo-motif5" class="lg" transform="translate(323,167) scale(.445,4.7)">
<text x="0" class="y" textLength="9.6" lengthAdjust="spacingAndGlyphs">P</text>
<text x="10" class="b" textLength="9.6" lengthAdjust="spacingAndGlyphs">I</text>
<text x="20" class="y" textLength="9.6" lengthAdjust="spacingAndGlyphs">P</text>
<text x="30" class="g" transform="scale(1,.25)" textLength="9.6" lengthAdjust="spacingAndGlyphs">S</text>
<text x="30" class="g" transform="translate(0,-2.5) scale(1,.7)" textLength="9.6" lengthAdjust="spacingAndGlyphs">T</text>
<text x="40" class="g" transform="scale(1,.95)" textLength="9.6" lengthAdjust="spacingAndGlyphs">N</text>
<text x="50" class="r" transform="scale(1,.9)" textLength="9.6" lengthAdjust="spacingAndGlyphs">K</text>
<text x="60" class="p" transform="scale(1,.25)" textLength="9.6" lengthAdjust="spacingAndGlyphs">H</text>
<text x="60" class="r" transform="translate(0,-2.5) scale(1,.6)" textLength="9.6" lengthAdjust="spacingAndGlyphs">R</text>
<text x="70" class="b" transform="scale(1,.2)" textLength="9.6" lengthAdjust="spacingAndGlyphs">L</text>
<text x="70" class="b" transform="translate(0,-2) scale(1,.2)" textLength="9.6" lengthAdjust="spacingAndGlyphs">M</text>
<text x="70" class="c" transform="translate(0,-4) scale(1,.35)" textLength="9.6" lengthAdjust="spacingAndGlyphs">Y</text>
<text x="80" class="b" transform="scale(1,.25)" textLength="9.6" lengthAdjust="spacingAndGlyphs">L</text>
<text x="80" class="g" transform="translate(0,-2.5) scale(1,.35)" textLength="9.6" lengthAdjust="spacingAndGlyphs">N</text>
<text x="90" class="b" transform="scale(1,.25)" textLength="9.6" lengthAdjust="spacingAndGlyphs">L</text>
<text x="90" class="b" transform="translate(0,-2.5) scale(1,.4)" textLength="9.6" lengthAdjust="spacingAndGlyphs">A</text>
<text x="100" class="b" transform="scale(1,.25)" textLength="9.6" lengthAdjust="spacingAndGlyphs">I</text>
<text x="100" class="b" transform="translate(0,-2.5) scale(1,.45)" textLength="9.6" lengthAdjust="spacingAndGlyphs">A</text>
<text x="110" class="g" transform="scale(1,.15)" textLength="9.6" lengthAdjust="spacingAndGlyphs">Q</text>
<text x="110" class="r" transform="translate(0,-1.5) scale(1,.2)" textLength="9.6" lengthAdjust="spacingAndGlyphs">R</text>
<text x="110" class="r" transform="translate(0,-3.5) scale(1,.4)" textLength="9.6" lengthAdjust="spacingAndGlyphs">K</text>
<text x="120" class="b" transform="scale(1,.95)" textLength="9.6" lengthAdjust="spacingAndGlyphs">I</text>
<text x="130" class="b" transform="scale(1,.95)" textLength="9.6" lengthAdjust="spacingAndGlyphs">F</text>
<text x="140" class="o" transform="scale(1,.2)" textLength="9.6" lengthAdjust="spacingAndGlyphs">G</text>
<text x="140" class="g" transform="translate(0,-2) scale(1,.2)" textLength="9.6" lengthAdjust="spacingAndGlyphs">N</text>
<text x="140" class="g" transform="translate(0,-4) scale(1,.4)" textLength="9.6" lengthAdjust="spacingAndGlyphs">S</text>
<text x="150" class="m" transform="scale(1,.2)" textLength="9.6" lengthAdjust="spacingAndGlyphs">D</text>
<text x="150" class="g" transform="translate(0,-2) scale(1,.2)" textLength="9.6" lengthAdjust="spacingAndGlyphs">N</text>
<text x="150" class="g" transform="translate(0,-4) scale(1,.35)" textLength="9.6" lengthAdjust="spacingAndGlyphs">S</text>
<text x="160" class="b" transform="scale(1,.25)" textLength="9.6" lengthAdjust="spacingAndGlyphs">A</text>
<text x="160" class="y" transform="translate(0,-2.5) scale(1,.35)" textLength="9.6" lengthAdjust="spacingAndGlyphs">P</text>
<text x="170" class="m" transform="scale(1,.25)" textLength="9.6" lengthAdjust="spacingAndGlyphs">D</text>
<text x="170" class="r" transform="translate(0,-2.5) scale(1,.6)" textLength="9.6" lengthAdjust="spacingAndGlyphs">K</text>
<text x="180" class="b" transform="scale(1,.95)" textLength="9.6" lengthAdjust="spacingAndGlyphs">V</text>
<text x="190" class="r" transform="scale(1,.3)" textLength="9.6" lengthAdjust="spacingAndGlyphs">K</text>
<text x="190" class="b" transform="translate(0,-3) scale(1,.4)" textLength="9.6" lengthAdjust="spacingAndGlyphs">A</text>
<text x="200" class="g" transform="scale(1,.15)" textLength="9.6" lengthAdjust="spacingAndGlyphs">Q</text>
<text x="200" class="b" transform="translate(0,-1.5) scale(1,.2)" textLength="9.6" lengthAdjust="spacingAndGlyphs">A</text>
<text x="200" class="g" transform="translate(0,-3.5) scale(1,.4)" textLength="9.6" lengthAdjust="spacingAndGlyphs">S</text>
<text x="210" class="b" transform="scale(1,.15)" textLength="9.6" lengthAdjust="spacingAndGlyphs">V</text>
<text x="210" class="m" transform="translate(0,-1.5) scale(1,.65)" textLength="9.6" lengthAdjust="spacingAndGlyphs">E</text>
<text x="220" class="g" transform="scale(1,.2)" textLength="9.6" lengthAdjust="spacingAndGlyphs">T</text>
<text x="220" class="m" transform="translate(0,-2) scale(1,.6)" textLength="9.6" lengthAdjust="spacingAndGlyphs">E</text>
<text x="230" class="g" transform="scale(1,.2)" textLength="9.6" lengthAdjust="spacingAndGlyphs">T</text>
<text x="230" class="y" transform="translate(0,-2) scale(1,.65)" textLength="9.6" lengthAdjust="spacingAndGlyphs">P</text>
<text x="240" class="b" transform="scale(1,.25)" textLength="9.6" lengthAdjust="spacingAndGlyphs">F</text>
<text x="240" class="b" transform="translate(0,-2.5) scale(1,.7)" textLength="9.6" lengthAdjust="spacingAndGlyphs">V</text>
<text x="250" class="o" textLength="9.6" lengthAdjust="spacingAndGlyphs">G</text>
<text x="260" class="b" textLength="9.6" lengthAdjust="spacingAndGlyphs">I</text>
<text x="270" class="m" textLength="9.6" lengthAdjust="spacingAndGlyphs">E</text>
<text x="280" class="g" textLength="9.6" lengthAdjust="spacingAndGlyphs">Q</text>
<text x="290" class="m" textLength="9.6" lengthAdjust="spacingAndGlyphs">E</text>
<text x="300" class="c" textLength="9.6" lengthAdjust="spacingAndGlyphs">Y</text>
<text x="310" class="g" textLength="9.6" lengthAdjust="spacingAndGlyphs">T</text>
<text x="320" class="b" transform="scale(1,.95)" textLength="9.6" lengthAdjust="spacingAndGlyphs">L</text>
<text x="330" class="g" transform="scale(1,.3)" textLength="9.6" lengthAdjust="spacingAndGlyphs">Q</text>
<text x="330" class="b" transform="translate(0,-3) scale(1,.55)" textLength="9.6" lengthAdjust="spacingAndGlyphs">A</text>
<text x="340" class="g" transform="scale(1,.95)" textLength="9.6" lengthAdjust="spacingAndGlyphs">Q</text>
<text x="350" class="r" transform="scale(1,.3)" textLength="9.6" lengthAdjust="spacingAndGlyphs">R</text>
<text x="350" class="r" transform="translate(0,-3) scale(1,.6)" textLength="9.6" lengthAdjust="spacingAndGlyphs">K</text>
<text x="360" class="m" transform="scale(1,.95)" textLength="9.6" lengthAdjust="spacingAndGlyphs">D</text>
<text x="370" class="g" transform="scale(1,.3)" textLength="9.6" lengthAdjust="spacingAndGlyphs">T</text>
<text x="370" class="b" transform="translate(0,-3) scale(1,.6)" textLength="9.6" lengthAdjust="spacingAndGlyphs">A</text>
<text x="380" class="g" textLength="9.6" lengthAdjust="spacingAndGlyphs">N</text>
<text x="390" class="g" textLength="9.6" lengthAdjust="spacingAndGlyphs">T</text>
<text x="400" class="y" textLength="9.6" lengthAdjust="spacingAndGlyphs">P</text>
<text x="410" class="b" textLength="9.6" lengthAdjust="spacingAndGlyphs">L</text>
<text x="420" class="o" transform="scale(1,.95)" textLength="9.6" lengthAdjust="spacingAndGlyphs">G</text>
<text x="430" class="g" textLength="9.6" lengthAdjust="spacingAndGlyphs">T</text>
<text x="440" class="y" textLength="9.6" lengthAdjust="spacingAndGlyphs">P</text>
<text x="450" class="b" transform="scale(1,.25)" textLength="9.6" lengthAdjust="spacingAndGlyphs">L</text>
<text x="450" class="c" transform="translate(0,-2.5) scale(1,.55)" textLength="9.6" lengthAdjust="spacingAndGlyphs">Y</text>
<text x="460" class="o" textLength="9.6" lengthAdjust="spacingAndGlyphs">G</text>
<text x="470" class="b" transform="scale(1,.15)" textLength="9.6" lengthAdjust="spacingAndGlyphs">W</text>
<text x="470" class="o" transform="translate(0,-1.5) scale(1,.75)" textLength="9.6" lengthAdjust="spacingAndGlyphs">G</text>
<text x="480" class="b" transform="scale(1,.3)" textLength="9.6" lengthAdjust="spacingAndGlyphs">F</text>
<text x="480" class="c" transform="translate(0,-3) scale(1,.6)" textLength="9.6" lengthAdjust="spacingAndGlyphs">Y</text>
</g>

<g id="logo-motif6" class="lg" transform="translate(323,212) scale(.545,3.9)">
<text x="0" class="g" transform="scale(1,.2)" textLength="9.6" lengthAdjust="spacingAndGlyphs">Q</text>
<text x="0" class="m" transform="translate(0,-2) scale(1,.7)" textLength="9.6" lengthAdjust="spacingAndGlyphs">D</text>
<text x="10" class="b" transform="scale(1,.2)" textLength="9.6" lengthAdjust="spacingAndGlyphs">V</text>
<text x="10" class="b" transform="translate(0,-2) scale(1,.65)" textLength="9.6" lengthAdjust="spacingAndGlyphs">L</text>
<text x="20" class="m" transform="scale(1,.3)" textLength="9.6" lengthAdjust="spacingAndGlyphs">D</text>
<text x="20" class="b" transform="translate(0,-3) scale(1,.5)" textLength="9.6" lengthAdjust="spacingAndGlyphs">I</text>
<text x="30" class="g" transform="scale(1,.15)" textLength="9.6" lengthAdjust="spacingAndGlyphs">N</text>
<text x="30" class="g" transform="translate(0,-1.5) scale(1,.2)" textLength="9.6" lengthAdjust="spacingAndGlyphs">S</text>
<text x="30" class="g" transform="translate(0,-3.5) scale(1,.4)" textLength="9.6" lengthAdjust="spacingAndGlyphs">N</text>
<text x="40" class="g" transform="scale(1,.25)" textLength="9.6" lengthAdjust="spacingAndGlyphs">N</text>
<text x="40" class="b" transform="translate(0,-2.5) scale(1,.6)" textLength="9.6" lengthAdjust="spacingAndGlyphs">L</text>
<text x="50" class="g" transform="scale(1,.25)" textLength="9.6" lengthAdjust="spacingAndGlyphs">T</text>
<text x="50" class="m" transform="translate(0,-2.5) scale(1,.6)" textLength="9.6" lengthAdjust="spacingAndGlyphs">D</text>
<text x="60" class="g" transform="scale(1,.25)" textLength="9.6" lengthAdjust="spacingAndGlyphs">T</text>
<text x="60" class="b" transform="translate(0,-2.5) scale(1,.55)" textLength="9.6" lengthAdjust="spacingAndGlyphs">L</text>
<text x="70" class="b" transform="scale(1,.15)" textLength="9.6" lengthAdjust="spacingAndGlyphs">I</text>
<text x="70" class="g" transform="translate(0,-1.5) scale(1,.7)" textLength="9.6" lengthAdjust="spacingAndGlyphs">S</text>
<text x="80" class="b" transform="scale(1,.2)" textLength="9.6" lengthAdjust="spacingAndGlyphs">F</text>
<text x="80" class="m" transform="translate(0,-2) scale(1,.2)" textLength="9.6" lengthAdjust="spacingAndGlyphs">D</text>
<text x="80" class="o" transform="translate(0,-4) scale(1,.4)" textLength="9.6" lengthAdjust="spacingAndGlyphs">G</text>
<text x="90" class="g" transform="scale(1,.3)" textLength="9.6" lengthAdjust="spacingAndGlyphs">S</text>
<text x="90" class="b" transform="translate(0,-3) scale(1,.45)" textLength="9.6" lengthAdjust="spacingAndGlyphs">C</text>
<text x="100" class="g" textLength="9.6" lengthAdjust="spacingAndGlyphs">T</text>
<text x="110" class="m" transform="scale(1,.2)" textLength="9.6" lengthAdjust="spacingAndGlyphs">E</text>
<text x="110" class="o" transform="translate(0,-2) scale(1,.2)" textLength="9.6" lengthAdjust="spacingAndGlyphs">G</text>
<text x="110" class="m" transform="translate(0,-4) scale(1,.55)" textLength="9.6" lengthAdjust="spacingAndGlyphs">D</text>
<text x="120" class="b" transform="scale(1,.2)" textLength="9.6" lengthAdjust="spacingAndGlyphs">V</text>
<text x="120" class="r" transform="translate(0,-2) scale(1,.75)" textLength="9.6" lengthAdjust="spacingAndGlyphs">K</text>
<text x="130" class="b" transform="scale(1,.95)" textLength="9.6" lengthAdjust="spacingAndGlyphs">I</text>
<text x="140" class="b" transform="scale(1,.25)" textLength="9.6" lengthAdjust="spacingAndGlyphs">V</text>
<text x="140" class="b" transform="translate(0,-2.5) scale(1,.7)" textLength="9.6" lengthAdjust="spacingAndGlyphs">I</text>
<text x="150" class="b" transform="scale(1,.95)" textLength="9.6" lengthAdjust="spacingAndGlyphs">A</text>
<text x="160" class="m" textLength="9.6" lengthAdjust="spacingAndGlyphs">E</text>
<text x="170" class="b" transform="scale(1,.2)" textLength="9.6" lengthAdjust="spacingAndGlyphs">L</text>
<text x="170" class="c" transform="translate(0,-2) scale(1,.75)" textLength="9.6" lengthAdjust="spacingAndGlyphs">Y</text>
<text x="180" class="b" transform="scale(1,.3)" textLength="9.6" lengthAdjust="spacingAndGlyphs">L</text>
<text x="180" class="b" transform="translate(0,-3) scale(1,.6)" textLength="9.6" lengthAdjust="spacingAndGlyphs">I</text>
<text x="190" class="b" transform="scale(1,.95)" textLength="9.6" lengthAdjust="spacingAndGlyphs">W</text>
<text x="200" class="g" transform="scale(1,.25)" textLength="9.6" lengthAdjust="spacingAndGlyphs">T</text>
<text x="200" class="o" transform="translate(0,-2.5) scale(1,.65)" textLength="9.6" lengthAdjust="spacingAndGlyphs">G</text>
<text x="210" class="o" textLength="9.6" lengthAdjust="spacingAndGlyphs">G</text>
<text x="220" class="g" textLength="9.6" lengthAdjust="spacingAndGlyphs">S</text>
<text x="230" class="o" textLength="9.6" lengthAdjust="spacingAndGlyphs">G</text>
<text x="240" class="m" transform="scale(1,.3)" textLength="9.6" lengthAdjust="spacingAndGlyphs">D</text>
<text x="240" class="b" transform="translate(0,-3) scale(1,.6)" textLength="9.6" lengthAdjust="spacingAndGlyphs">M</text>
<text x="250" class="c" transform="scale(1,.3)" textLength="9.6" lengthAdjust="spacingAndGlyphs">Y</text>
<text x="250" class="m" transform="translate(0,-3) scale(1,.6)" textLength="9.6" lengthAdjust="spacingAndGlyphs">D</text>
<text x="260" class="b" transform="scale(1,.9)" textLength="9.6" lengthAdjust="spacingAndGlyphs">L</text>
<text x="270" class="r" textLength="9.6" lengthAdjust="spacingAndGlyphs">R</text>
<text x="280" class="g" transform="scale(1,.25)" textLength="9.6" lengthAdjust="spacingAndGlyphs">N</text>
<text x="280" class="g" transform="translate(0,-2.5) scale(1,.7)" textLength="9.6" lengthAdjust="spacingAndGlyphs">S</text>
<text x="290" class="r" textLength="9.6" lengthAdjust="spacingAndGlyphs">K</text>
<text x="300" class="b" textLength="9.6" lengthAdjust="spacingAndGlyphs">A</text>
<text x="310" class="r" textLength="9.6" lengthAdjust="spacingAndGlyphs">R</text>
<text x="320" class="g" transform="scale(1,.15)" textLength="9.6" lengthAdjust="spacingAndGlyphs">S</text>
<text x="320" class="c" transform="translate(0,-1.5) scale(1,.15)" textLength="9.6" lengthAdjust="spacingAndGlyphs">Y</text>
<text x="320" class="g" transform="translate(0,-3) scale(1,.65)" textLength="9.6" lengthAdjust="spacingAndGlyphs">T</text>
<text x="330" class="r" transform="scale(1,.2)" textLength="9.6" lengthAdjust="spacingAndGlyphs">K</text>
<text x="330" class="g" transform="translate(0,-2) scale(1,.2)" textLength="9.6" lengthAdjust="spacingAndGlyphs">S</text>
<text x="330" class="b" transform="translate(0,-4) scale(1,.5)" textLength="9.6" lengthAdjust="spacingAndGlyphs">L</text>
<text x="340" class="o" transform="scale(1,.3)" textLength="9.6" lengthAdjust="spacingAndGlyphs">G</text>
<text x="340" class="y" transform="translate(0,-3) scale(1,.45)" textLength="9.6" lengthAdjust="spacingAndGlyphs">P</text>
<text x="350" class="r" transform="scale(1,.25)" textLength="9.6" lengthAdjust="spacingAndGlyphs">K</text>
<text x="350" class="o" transform="translate(0,-2.5) scale(1,.65)" textLength="9.6" lengthAdjust="spacingAndGlyphs">G</text>
<text x="360" class="y" textLength="9.6" lengthAdjust="spacingAndGlyphs">P</text>
<text x="370" class="b" textLength="9.6" lengthAdjust="spacingAndGlyphs">V</text>
<text x="380" class="m" transform="scale(1,.15)" textLength="9.6" lengthAdjust="spacingAndGlyphs">D</text>
<text x="380" class="m" transform="translate(0,-1.5) scale(1,.2)" textLength="9.6" lengthAdjust="spacingAndGlyphs">E</text>
<text x="380" class="g" transform="translate(0,-3.5) scale(1,.6)" textLength="9.6" lengthAdjust="spacingAndGlyphs">T</text>
<text x="390" class="m" textLength="9.6" lengthAdjust="spacingAndGlyphs">D</text>
</g>

<g id="logo-motif7" class="lg" transform="translate(323,272) scale(.748,4.5)">
<text x="0" class="b" textLength="9.6" lengthAdjust="spacingAndGlyphs">V</text>
<text x="10" class="b" textLength="9.6" lengthAdjust="spacingAndGlyphs">I</text>
<text x="20" class="b" transform="scale(1,.25)" textLength="9.6" lengthAdjust="spacingAndGlyphs">V</text>
<text x="20" class="r" transform="translate(0,-2.5) scale(1,.2)" textLength="9.6" lengthAdjust="spacingAndGlyphs">R</text>
<text x="20" class="r" transform="translate(0,-4.5) scale(1,.5)" textLength="9.6" lengthAdjust="spacingAndGlyphs">K</text>
<text x="30" class="m" transform="scale(1,.25)" textLength="9.6" lengthAdjust="spacingAndGlyphs">D</text>
<text x="30" class="r" transform="translate(0,-2.5) scale(1,.5)" textLength="9.6" lengthAdjust="spacingAndGlyphs">K</text>
<text x="40" class="b" transform="scale(1,.95)" textLength="9.6" lengthAdjust="spacingAndGlyphs">A</text>
<text x="50" class="b" transform="scale(1,.3)" textLength="9.6" lengthAdjust="spacingAndGlyphs">V</text>
<text x="50" class="b" transform="translate(0,-3) scale(1,.55)" textLength="9.6" lengthAdjust="spacingAndGlyphs">L</text>
<text x="60" class="r" transform="scale(1,.25)" textLength="9.6" lengthAdjust="spacingAndGlyphs">K</text>
<text x="60" class="m" transform="translate(0,-2.5) scale(1,.65)" textLength="9.6" lengthAdjust="spacingAndGlyphs">E</text>
<text x="70" class="g" transform="scale(1,.3)" textLength="9.6" lengthAdjust="spacingAndGlyphs">N</text>
<text x="70" class="r" transform="translate(0,-3) scale(1,.55)" textLength="9.6" lengthAdjust="spacingAndGlyphs">K</text>
<text x="80" class="b" transform="scale(1,.95)" textLength="9.6" lengthAdjust="spacingAndGlyphs">L</text>
<text x="90" class="m" transform="scale(1,.15)" textLength="9.6" lengthAdjust="spacingAndGlyphs">E</text>
<text x="90" class="o" transform="translate(0,-1.5) scale(1,.2)" textLength="9.6" lengthAdjust="spacingAndGlyphs">G</text>
<text x="90" class="r" transform="translate(0,-3.5) scale(1,.2)" textLength="9.6" lengthAdjust="spacingAndGlyphs">K</text>
<text x="90" class="g" transform="translate(0,-5.5) scale(1,.3)" textLength="9.6" lengthAdjust="spacingAndGlyphs">S</text>
<text x="100" class="b" transform="scale(1,.2)" textLength="9.6" lengthAdjust="spacingAndGlyphs">A</text>
<text x="100" class="r" transform="translate(0,-2) scale(1,.2)" textLength="9.6" lengthAdjust="spacingAndGlyphs">K</text>
<text x="100" class="b" transform="translate(0,-4) scale(1,.45)" textLength="9.6" lengthAdjust="spacingAndGlyphs">L</text>
<text x="110" class="r" transform="scale(1,.25)" textLength="9.6" lengthAdjust="spacingAndGlyphs">K</text>
<text x="110" class="r" transform="translate(0,-2.5) scale(1,.6)" textLength="9.6" lengthAdjust="spacingAndGlyphs">R</text>
<text x="120" class="p" transform="scale(1,.95)" textLength="9.6" lengthAdjust="spacingAndGlyphs">H</text>
<text x="130" class="m" transform="scale(1,.2)" textLength="9.6" lengthAdjust="spacingAndGlyphs">D</text>
<text x="130" class="r" transform="translate(0,-2) scale(1,.15)" textLength="9.6" lengthAdjust="spacingAndGlyphs">K</text>
<text x="130" class="b" transform="translate(0,-3.5) scale(1,.2)" textLength="9.6" lengthAdjust="spacingAndGlyphs">M</text>
<text x="130" class="g" transform="translate(0,-5.5) scale(1,.2)" textLength="9.6" lengthAdjust="spacingAndGlyphs">T</text>
<text x="140" class="b" transform="scale(1,.2)" textLength="9.6" lengthAdjust="spacingAndGlyphs">L</text>
<text x="140" class="g" transform="translate(0,-2) scale(1,.2)" textLength="9.6" lengthAdjust="spacingAndGlyphs">Q</text>
<text x="140" class="m" transform="translate(0,-4) scale(1,.35)" textLength="9.6" lengthAdjust="spacingAndGlyphs">E</text>
<text x="150" class="p" transform="scale(1,.95)" textLength="9.6" lengthAdjust="spacingAndGlyphs">H</text>
<text x="160" class="b" textLength="9.6" lengthAdjust="spacingAndGlyphs">I</text>
<text x="170" class="b" textLength="9.6" lengthAdjust="spacingAndGlyphs">A</text>
<text x="180" class="b" textLength="9.6" lengthAdjust="spacingAndGlyphs">A</text>
<text x="190" class="c" textLength="9.6" lengthAdjust="spacingAndGlyphs">Y</text>
<text x="200" class="o" textLength="9.6" lengthAdjust="spacingAndGlyphs">G</text>
<text x="210" class="m" textLength="9.6" lengthAdjust="spacingAndGlyphs">E</text>
<text x="220" class="o" textLength="9.6" lengthAdjust="spacingAndGlyphs">G</text>
<text x="230" class="g" textLength="9.6" lengthAdjust="spacingAndGlyphs">N</text>
<text x="240" class="m" textLength="9.6" lengthAdjust="spacingAndGlyphs">E</text>
<text x="250" class="r" textLength="9.6" lengthAdjust="spacingAndGlyphs">R</text>
<text x="260" class="r" textLength="9.6" lengthAdjust="spacingAndGlyphs">R</text>
<text x="270" class="b" textLength="9.6" lengthAdjust="spacingAndGlyphs">L</text>
<text x="280" class="g" textLength="9.6" lengthAdjust="spacingAndGlyphs">T</text>
</g>

<g id="logo-motif8" class="lg" transform="translate(323,322) scale(.84,4.2)">
<text x="0" class="b" transform="scale(1,.3)" textLength="9.6" lengthAdjust="spacingAndGlyphs">L</text>
<text x="0" class="b" transform="translate(0,-3) scale(1,.6)" textLength="9.6" lengthAdjust="spacingAndGlyphs">M</text>
<text x="10" class="b" transform="scale(1,.3)" textLength="9.6" lengthAdjust="spacingAndGlyphs">L</text>
<text x="10" class="b" transform="translate(0,-3) scale(1,.6)" textLength="9.6" lengthAdjust="spacingAndGlyphs">I</text>
<text x="20" class="b" transform="scale(1,.85)" textLength="9.6" lengthAdjust="spacingAndGlyphs">A</text>
<text x="30" class="m" transform="scale(1,.95)" textLength="9.6" lengthAdjust="spacingAndGlyphs">E</text>
<text x="40" class="g" transform="scale(1,.95)" textLength="9.6" lengthAdjust="spacingAndGlyphs">T</text>
<text x="50" class="g" transform="scale(1,.95)" textLength="9.6" lengthAdjust="spacingAndGlyphs">T</text>
<text x="60" class="b" transform="scale(1,.5)" textLength="9.6" lengthAdjust="spacingAndGlyphs">I</text>
<text x="70" class="b" transform="scale(1,.95)" textLength="9.6" lengthAdjust="spacingAndGlyphs">L</text>
</g>
</svg>
